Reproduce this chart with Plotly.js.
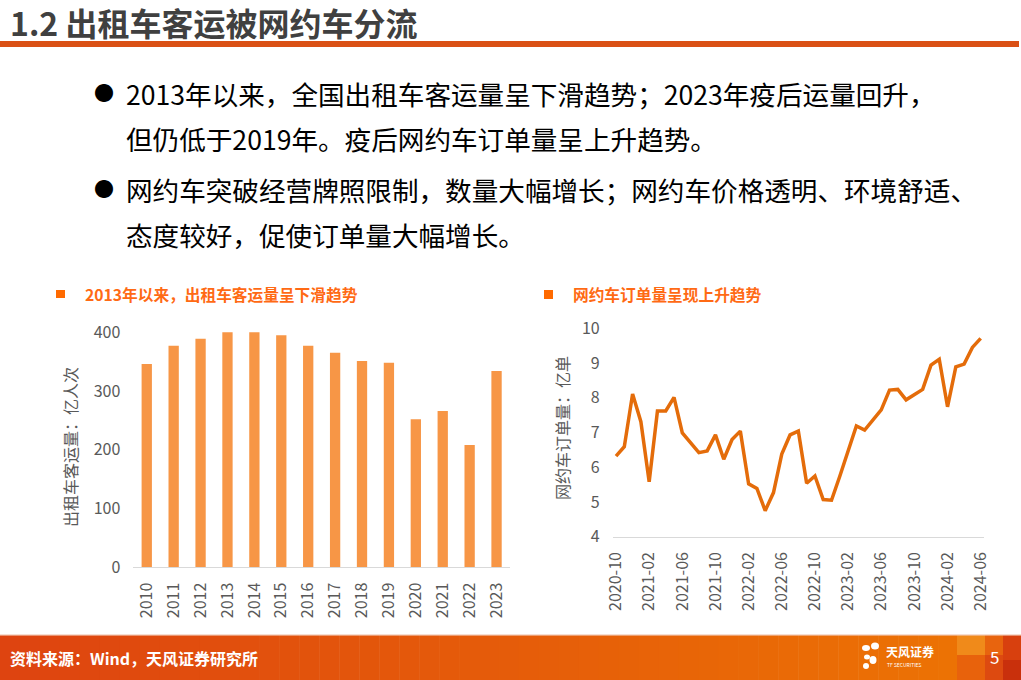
<!DOCTYPE html>
<html><head><meta charset="utf-8">
<script src="https://cdn.plot.ly/plotly-3.0.1.min.js"></script>
<style>html,body{margin:0;padding:0;background:#fff;overflow:hidden}</style>
</head><body>
<div id="chart" style="width:1021px;height:680px"></div>
<script>
// ---- data ----
const years = ['2010','2011','2012','2013','2014','2015','2016','2017','2018','2019','2020','2021','2022','2023'];
const taxiPassengers = [346, 377, 389, 401, 401, 395, 377, 365, 351, 348, 252, 266, 208, 334];

const months = ['2020-10','2020-11','2020-12','2021-01','2021-02','2021-03','2021-04','2021-05','2021-06','2021-07',
  '2021-08','2021-09','2021-10','2021-11','2021-12','2022-01','2022-02','2022-03','2022-04','2022-05',
  '2022-06','2022-07','2022-08','2022-09','2022-10','2022-11','2022-12','2023-01','2023-02','2023-03',
  '2023-04','2023-05','2023-06','2023-07','2023-08','2023-09','2023-10','2023-11','2023-12','2024-01',
  '2024-02','2024-03','2024-04','2024-05','2024-06'];
const rideOrders = [6.32, 6.59, 8.11, 7.31, 5.58, 7.62, 7.62, 8.01, 6.99, 6.71,
  6.42, 6.47, 6.93, 6.23, 6.80, 7.04, 5.52, 5.39, 4.75, 5.27,
  6.38, 6.93, 7.04, 5.54, 5.75, 5.07, 5.05, 5.74, 6.46, 7.19,
  7.07, 7.36, 7.65, 8.22, 8.24, 7.94, 8.10, 8.24, 8.94, 9.11,
  7.74, 8.89, 8.97, 9.45, 9.71];
const monthTicks = ['2020-10','2021-02','2021-06','2021-10','2022-02','2022-06','2022-10','2023-02','2023-06','2023-10','2024-02','2024-06'];

const pageTitle = '1.2 出租车客运被网约车分流';
const bulletLines = [
  '2013年以来，全国出租车客运量呈下滑趋势；2023年疫后运量回升，',
  '但仍低于2019年。疫后网约车订单量呈上升趋势。',
  '网约车突破经营牌照限制，数量大幅增长；网约车价格透明、环境舒适、',
  '态度较好，促使订单量大幅增长。'
];
const leftChartTitle = '2013年以来，出租车客运量呈下滑趋势';
const rightChartTitle = '网约车订单量呈现上升趋势';
const leftYTitle = '出租车客运量：亿人次';
const rightYTitle = '网约车订单量：亿单';
const sourceText = '资料来源：Wind，天风证券研究所';

// ---- layout helpers ----
const W = 1021, H = 680;
const px = x => x / W;
const py = y => 1 - y / H;
const FONT = '"Noto Sans CJK SC", "Noto Sans", sans-serif';
const GREY = '#595959';

const traces = [
  {type: 'bar', x: years, y: taxiPassengers, xaxis: 'x', yaxis: 'y',
   marker: {color: '#F79646'}, cliponaxis: false, hoverinfo: 'x+y'},
  {type: 'scatter', mode: 'lines', x: months, y: rideOrders, xaxis: 'x2', yaxis: 'y2',
   line: {color: '#E46C0A', width: 3.5}, cliponaxis: false, hoverinfo: 'x+y'}
];

const shapes = [];
const annotations = [];

// title underline
shapes.push({type: 'rect', xref: 'paper', yref: 'paper', x0: px(0), x1: px(1019), y0: py(47), y1: py(41),
  fillcolor: '#DA5015', line: {width: 0}});

// footer gradient band
const c0 = [222, 68, 16], c1 = [236, 114, 4];
const N = 48, footerEnd = 958;
for (let i = 0; i < N; i++) {
  const t = i / (N - 1);
  const c = c0.map((v, k) => Math.round(v + (c1[k] - v) * t));
  shapes.push({type: 'rect', xref: 'paper', yref: 'paper',
    x0: px(footerEnd * i / N), x1: px(footerEnd * (i + 1) / N + 0.5), y0: py(680), y1: py(635),
    fillcolor: `rgb(${c[0]},${c[1]},${c[2]})`, line: {width: 0}});
}
// right decorative blocks
const blocks = [
  [957, 635, 985, 655, '#F08A1A'], [957, 655, 985, 680, '#E8620C'],
  [985, 635, 1003, 655, '#E8640E'], [985, 655, 1003, 680, '#DD4A10'],
  [1003, 635, 1021, 660, '#D8400E'], [1003, 660, 1021, 680, '#C9300C']
];
blocks.forEach(b => shapes.push({type: 'rect', xref: 'paper', yref: 'paper',
  x0: px(b[0]), x1: px(b[2]), y0: py(b[3]), y1: py(b[1]), fillcolor: b[4], line: {width: 0}}));
shapes.push({type: 'rect', xref: 'paper', yref: 'paper', x0: px(0), x1: px(1021), y0: py(636), y1: py(634),
  fillcolor: 'rgba(240,200,180,0.6)', line: {width: 0}});

// logo petals
const petals = [[866, 648, 4, 3], [875, 646, 4, 3.5], [867, 657, 3, 2.5], [873, 660, 3.5, 4], [866, 666, 3, 3]];
petals.forEach(p => shapes.push({type: 'circle', xref: 'paper', yref: 'paper',
  x0: px(p[0] - p[2]), x1: px(p[0] + p[2]), y0: py(p[1] + p[3]), y1: py(p[1] - p[3]),
  fillcolor: '#FFFFFF', line: {width: 0}}));

// chart legend squares
shapes.push({type: 'rect', xref: 'paper', yref: 'paper', x0: px(56), x1: px(65), y0: py(298), y1: py(290),
  fillcolor: '#FF6A00', line: {width: 0}});
shapes.push({type: 'rect', xref: 'paper', yref: 'paper', x0: px(544), x1: px(553), y0: py(299), y1: py(290),
  fillcolor: '#FF6A00', line: {width: 0}});

function txt(text, x, y, size, color, opts) {
  annotations.push(Object.assign({text: text, xref: 'paper', yref: 'paper', x: px(x), y: py(y),
    xanchor: 'left', yanchor: 'middle', showarrow: false,
    font: {family: FONT, size: size, color: color}}, opts || {}));
}

txt('<b>' + pageTitle + '</b>', 8, 22, 32, '#404040');
txt('●', 92, 93, 20, '#000000');
txt('●', 92, 188, 20, '#000000');
txt(bulletLines[0], 124, 94, 26.6, '#000000');
txt(bulletLines[1], 124, 139, 26.6, '#000000');
txt(bulletLines[2], 124, 189, 26.6, '#000000');
txt(bulletLines[3], 124, 234, 26.6, '#000000');

txt('<b>' + leftChartTitle + '</b>', 83, 294, 15.7, '#FF6A14');
txt('<b>' + rightChartTitle + '</b>', 571, 294, 15.7, '#FF6A14');

txt(leftYTitle, 70, 447, 16, GREY, {xanchor: 'center', textangle: -90});
txt(rightYTitle, 562, 428, 16, GREY, {xanchor: 'center', textangle: -90});

txt('<b>' + sourceText + '</b>', 8, 658, 16, '#FFFFFF');
txt('<b>天风证券</b>', 884, 651, 12, '#FFFFFF');
txt('TF SECURITIES', 885, 664, 5, '#FFFFFF');
txt('5', 988, 656, 17, '#FFFFFF');

const axisFont = {family: FONT, size: 16, color: GREY};

const layout = {
  width: W, height: H,
  margin: {l: 0, r: 0, t: 0, b: 0, pad: 0},
  paper_bgcolor: '#FFFFFF', plot_bgcolor: 'rgba(0,0,0,0)',
  showlegend: false,
  bargap: 0.617,
  xaxis: {domain: [px(133.3), px(510)], anchor: 'y', type: 'category', range: [-0.5, 13.5],
    showline: true, linecolor: '#D9D9D9', linewidth: 1, showgrid: false, zeroline: false,
    ticks: '', tickangle: -90, tickfont: axisFont, ticklabelstandoff: 8, fixedrange: true},
  yaxis: {domain: [py(567.3), py(332.3)], anchor: 'x', range: [0, 400], dtick: 100, tick0: 0,
    showline: false, showgrid: false, zeroline: false, ticks: '', tickfont: axisFont,
    ticklabelstandoff: 12, fixedrange: true},
  xaxis2: {domain: [px(612.7), px(984)], anchor: 'y2', type: 'category', range: [-0.4, 44.4],
    tickvals: monthTicks, ticktext: monthTicks,
    showline: true, linecolor: '#D9D9D9', linewidth: 1, showgrid: false, zeroline: false,
    ticks: '', tickangle: -90, tickfont: axisFont, ticklabelstandoff: 8, fixedrange: true},
  yaxis2: {domain: [py(536.7), py(328.3)], anchor: 'x2', range: [4, 10], dtick: 1, tick0: 4,
    showline: false, showgrid: false, zeroline: false, ticks: '', tickfont: axisFont,
    ticklabelstandoff: 12, fixedrange: true},
  shapes: shapes,
  annotations: annotations
};

Plotly.newPlot('chart', traces, layout, {displayModeBar: false, staticPlot: true});
</script>
</body></html>
